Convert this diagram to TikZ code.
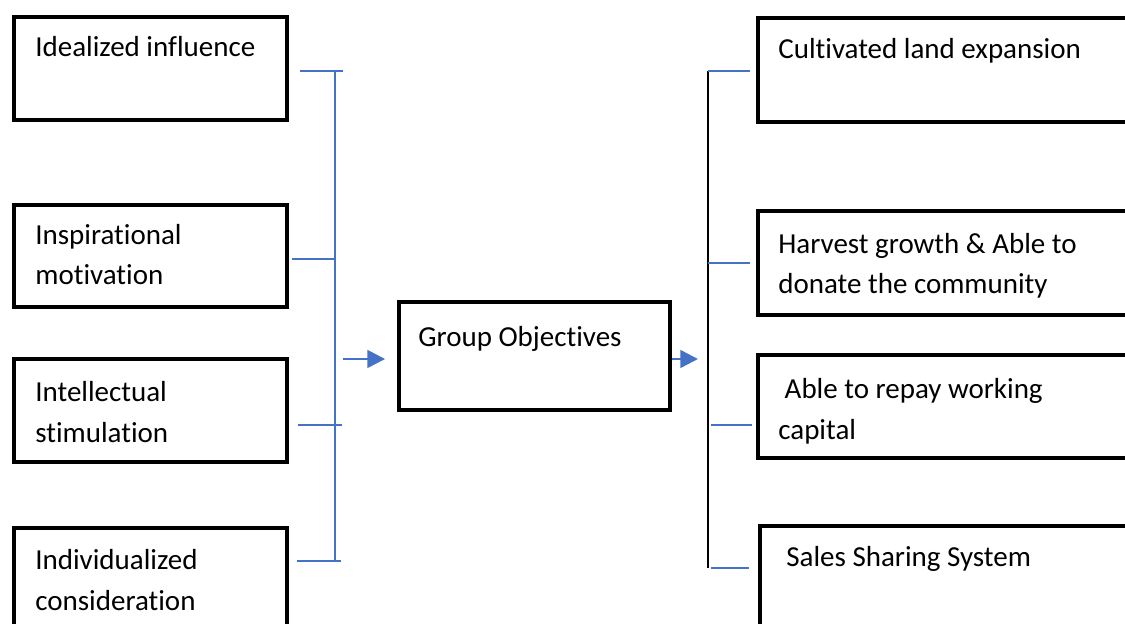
\documentclass[tikz,border=0pt]{standalone}
\usepackage{fontspec}
\setmainfont{Carlito}[Ligatures=NoCommon]
\usetikzlibrary{arrows.meta}
\definecolor{wordblue}{HTML}{4472C4}
\tikzset{
  box/.style={draw, line width=2.3pt, anchor=north west, inner sep=0pt},
  txt/.style={anchor=base west, align=left, inner sep=0pt,
    font=\fontsize{16.5pt}{23.2pt}\selectfont},
  tick/.style={wordblue, line width=0.8pt},
  goarrow/.style={wordblue, line width=1.4pt, -{Triangle[length=10pt,width=10pt]}}
}
\begin{document}
\begin{tikzpicture}[x=0.02cm, y=-0.02cm]
    \useasboundingbox (0,0) rectangle (1125,624);
    \clip (0,0) rectangle (1125,624);

    % left boxes
    \node[box, minimum width=5.46cm, minimum height=2.06cm] (ideal) at (12, 15) {};
    \node[box, minimum width=5.46cm, minimum height=2.04cm] (insp)  at (12,203) {};
    \node[box, minimum width=5.46cm, minimum height=2.06cm] (intel) at (12,357) {};
    \node[box, minimum width=5.46cm, minimum height=2.20cm] (indiv) at (12,526) {};
    % base = last line
    \node[txt] (idealT) at (35, 57) {Idealized influence};
    \node[txt] (inspT)  at (35,285) {Inspirational\\motivation};
    \node[txt] (intelT) at (35,442) {Intellectual\\stimulation};
    \node[txt] (indivT) at (35,610) {Individualized\\consideration};

    % middle box
    \node[box, minimum width=5.42cm, minimum height=2.16cm] (group) at (397,300) {};
    \node[txt] (groupT) at (418,347) {Group Objectives};

    % right boxes
    \node[box, minimum width=7.8cm, minimum height=2.08cm] (land)  at (756, 16) {};
    \node[box, minimum width=7.8cm, minimum height=2.08cm] (harv)  at (756,209) {};
    \node[box, minimum width=7.8cm, minimum height=2.06cm] (repay) at (756,353) {};
    \node[box, minimum width=7.8cm, minimum height=2.20cm] (sales) at (758,524) {};
    \node[txt] (landT)  at (778, 59) {Cultivated land expansion};
    \node[txt] (harvT)  at (778,294) {Harvest growth \& Able to\\donate the community};
    \node[txt] (repayT) at (778,439) {\hspace*{0.22em}Able to repay working\\capital};
    \node[txt] (salesT) at (786,566) {Sales Sharing System};

    % left bracket
    \coordinate (lTop) at (335, 71);
    \coordinate (lBot) at (335,561);
    \draw[tick] (lTop) -- (lBot);
    \draw[tick, line width=1.2pt] (300, 71) -- (343, 71);
    \draw[tick] (292,259) -- (335,259);
    \draw[tick] (298,425) -- (342,425);
    \draw[tick, line width=1.2pt] (297,561) -- (341,561);

    % right bracket
    \coordinate (rTop) at (708, 71);
    \coordinate (rBot) at (708,568);
    \draw[line width=0.9pt] (rTop) -- (rBot);
    \draw[tick, line width=1.2pt] (708, 71) -- (750, 71);
    \draw[tick] (708,263) -- (750,263);
    \draw[tick] (711,425) -- (752,425);
    \draw[tick, line width=1.2pt] (711,568) -- (749,568);

    % arrows
    \coordinate (inA) at (343,359);
    \coordinate (outB) at (698,359);
    \draw[goarrow, shorten >=6.8pt] (inA) -- (inA -| group.west);
    \draw[goarrow] (group.east |- outB) -- (outB);
\end{tikzpicture}
\end{document}
